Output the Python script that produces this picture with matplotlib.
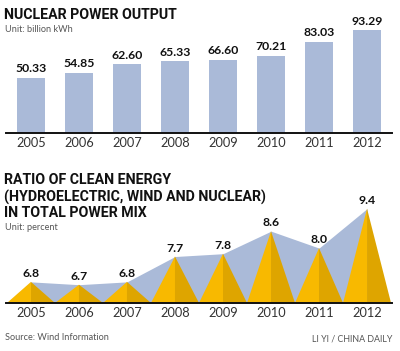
import matplotlib.pyplot as plt
from matplotlib.patches import Polygon

years = ["2005", "2006", "2007", "2008", "2009", "2010", "2011", "2012"]
nuclear = [50.33, 54.85, 62.60, 65.33, 66.60, 70.21, 83.03, 93.29]
clean_ratio = [6.8, 6.7, 6.8, 7.7, 7.8, 8.6, 8.0, 9.4]

W, H = 400, 351
BLUE = "#aabad8"
GOLD_L = "#f8b900"
GOLD_D = "#dea500"

fig = plt.figure(figsize=(W / 100, H / 100), dpi=100)
fig.patch.set_facecolor("white")


def ax_box(x0, x1, ytop, ybot):
    # pixel box (y measured from top) -> figure fraction
    return [x0 / W, 1 - ybot / H, (x1 - x0) / W, (ybot - ytop) / H]


def ftext(x, y, s, **kw):
    fig.text(x / W, 1 - y / H, s, **kw)


title_font = dict(family=["Roboto", "DejaVu Sans"], weight="bold")
num_font = dict(family=["Lato", "DejaVu Sans"], weight="bold")
small_font = dict(family=["Lato", "DejaVu Sans"])

xs = list(range(len(years)))

# ===== Nuclear power output =====
ax1 = fig.add_axes(ax_box(6, 392, 23, 133))
ax1.bar(xs, nuclear, width=0.58, color=BLUE)
for x, v in zip(xs, nuclear):
    ax1.text(x, v + 3, f"{v:.2f}", ha="center", va="bottom", fontsize=8.8,
             color="#111111", **num_font)
ax1.set_xlim(-0.52, 7.52)
ax1.set_ylim(0, 100)

# ===== Clean energy ratio =====
ymin = 6.05
ax2 = fig.add_axes(ax_box(6, 392, 203, 303))
ax2.fill_between(xs, clean_ratio, ymin, color=BLUE, linewidth=0)
for x, v in zip(xs, clean_ratio):
    ax2.add_patch(Polygon([(x - 0.5, ymin), (x, v), (x, ymin)],
                          closed=True, color=GOLD_L, linewidth=0))
    ax2.add_patch(Polygon([(x, ymin), (x, v), (x + 0.5, ymin)],
                          closed=True, color=GOLD_D, linewidth=0))
    ax2.text(x, v + 0.1, f"{v:.1f}", ha="center", va="bottom", fontsize=8.8,
             color="#111111", **num_font)
ax2.set_xlim(-0.52, 7.52)
ax2.set_ylim(ymin, 9.6)

for ax in (ax1, ax2):
    for s in ("top", "left", "right"):
        ax.spines[s].set_visible(False)
    ax.spines["bottom"].set_linewidth(1.4)
    ax.spines["bottom"].set_color("#111111")
    ax.set_yticks([])
    ax.set_xticks(xs)
    ax.set_xticklabels(years, fontsize=9.2, color="#333333",
                       family=["Lato", "DejaVu Sans"])
    ax.tick_params(axis="x", length=0, pad=3)
    ax.set_facecolor("none")

# ===== Texts =====
ftext(4, 15, "NUCLEAR POWER OUTPUT", fontsize=10.2, va="center", color="#111111", **title_font)
ftext(5, 30, "Unit: billion kWh", fontsize=6.6, va="center", color="#555555", **small_font)

ftext(4, 180, "RATIO OF CLEAN ENERGY", fontsize=10.2, va="center", color="#111111", **title_font)
ftext(4, 197, "(HYDROELECTRIC, WIND AND NUCLEAR)", fontsize=10.2, va="center", color="#111111", **title_font)
ftext(4, 213, "IN TOTAL POWER MIX", fontsize=10.2, va="center", color="#111111", **title_font)
ftext(5, 228, "Unit: percent", fontsize=6.6, va="center", color="#555555", **small_font)

ftext(5, 337, "Source: Wind Information", fontsize=6.6, va="center", color="#555555", **small_font)
ftext(392, 339, "LI YI / CHINA DAILY", fontsize=6.4, va="center", ha="right", color="#555555", **small_font)

fig.savefig("out.png", dpi=100)
